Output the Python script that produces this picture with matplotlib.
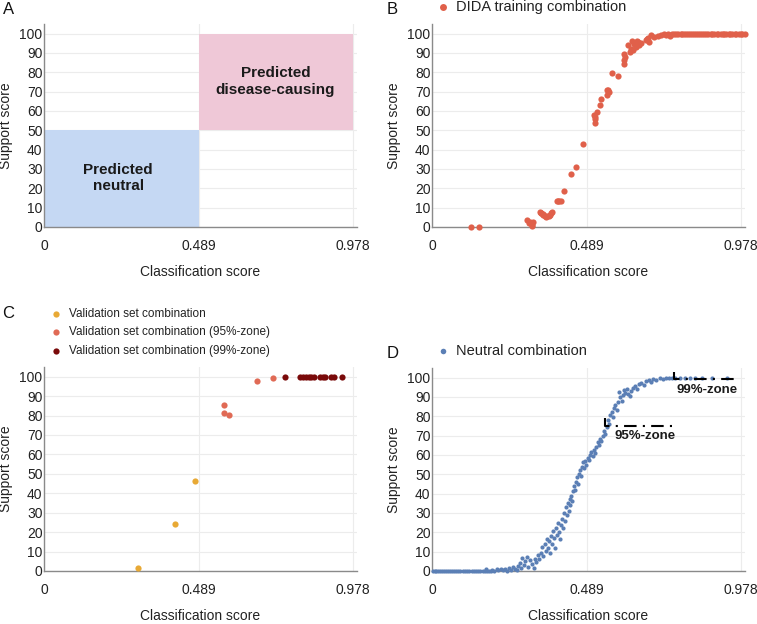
import matplotlib
matplotlib.use("Agg")
import matplotlib.pyplot as plt
from matplotlib.patches import Rectangle

plt.rcParams['font.family'] = ['Liberation Sans', 'DejaVu Sans']

XT = [0, 0.489, 0.978]
XT_LABELS = ['0', '0.489', '0.978']
YT = [0, 10, 20, 30, 40, 50, 60, 70, 80, 90, 100]

# panel B: DIDA training combination
b_x = [0.124, 0.148, 0.301, 0.306, 0.310, 0.315, 0.317, 0.320, 0.341, 0.344,
       0.346, 0.350, 0.352, 0.357, 0.362, 0.365, 0.370, 0.374, 0.377, 0.381,
       0.394, 0.398, 0.402, 0.407, 0.418, 0.439, 0.457, 0.478, 0.513, 0.514,
       0.515, 0.516, 0.523, 0.532, 0.536, 0.553, 0.555, 0.558, 0.560, 0.568,
       0.589, 0.606, 0.607, 0.608, 0.610, 0.619, 0.627, 0.631, 0.634, 0.636,
       0.640, 0.645, 0.648, 0.651, 0.656, 0.661, 0.677, 0.680, 0.682, 0.687,
       0.693, 0.703, 0.714, 0.724,
       0.735, 0.741, 0.748, 0.753, 0.760, 0.766, 0.773, 0.778, 0.786, 0.791,
       0.797, 0.804, 0.810, 0.815, 0.823, 0.829, 0.834, 0.842, 0.848, 0.855,
       0.860, 0.868, 0.874, 0.881, 0.887, 0.892, 0.900, 0.906, 0.913, 0.919,
       0.925, 0.931, 0.938, 0.944, 0.950, 0.957, 0.963, 0.970, 0.976, 0.982, 0.989]
b_y = [0, 0, 3.4, 2.0, 2.4, 1.2, 0.7, 2.4, 8.0, 7.0,
       7.2, 6.5, 6.4, 5.8, 5.0, 5.5, 5.8, 6.2, 7.2, 8.0,
       13.2, 13.4, 13.7, 13.7, 18.4, 27.5, 31.0, 42.8, 58.0, 57.0,
       56.0, 54.0, 59.6, 63.0, 66.0, 68.5, 70.8, 71.0, 70.0, 79.7,
       78.0, 84.5, 86.6, 89.7, 88.0, 94.3, 90.5, 92.3, 96.2, 91.5,
       94.8, 93.1, 96.0, 95.7, 94.0, 95.2, 96.6, 97.0, 97.9, 95.7,
       99.1, 98.3, 98.6, 99.5,
       100, 99.2, 100, 98.8, 100, 99.6, 100, 100, 100, 99.7,
       100, 100, 100, 100, 100, 100, 100, 100, 100, 100,
       100, 100, 100, 100, 100, 100, 100, 100, 100, 100,
       100, 100, 100, 100, 100, 100, 100, 100, 100, 100, 100]

# panel C: validation set
c_x = [0.296, 0.413, 0.477]
c_y = [1.7, 24.2, 46.2]
c95_x = [0.568, 0.568, 0.585, 0.675, 0.725]
c95_y = [85.2, 81.1, 80.4, 97.8, 99.3]
c99_x = [0.763, 0.809, 0.819, 0.828, 0.837, 0.846, 0.854, 0.872, 0.881,
         0.890, 0.908, 0.917, 0.943]
c99_y = [100, 100, 100, 100, 100, 100, 100, 100, 100, 100, 100, 100, 100]

# panel D: neutral combination
d_x = [0.002, 0.008, 0.013, 0.019, 0.025, 0.031, 0.038, 0.044, 0.051, 0.057,
       0.063, 0.070, 0.077, 0.083, 0.090, 0.097, 0.104, 0.111, 0.118, 0.125,
       0.132, 0.139, 0.146, 0.153, 0.160, 0.167, 0.174, 0.181, 0.188, 0.195,
       0.172, 0.190, 0.205, 0.210, 0.218, 0.225, 0.232, 0.238, 0.245, 0.250,
       0.256, 0.262, 0.268, 0.272, 0.277, 0.281,
       0.285, 0.290, 0.295, 0.300, 0.305, 0.310, 0.315, 0.322, 0.325, 0.330,
       0.335, 0.340,
       0.345, 0.348, 0.352, 0.356, 0.360, 0.363, 0.366, 0.370, 0.373, 0.376,
       0.380, 0.383, 0.386, 0.390, 0.393, 0.396, 0.399, 0.402, 0.405, 0.408,
       0.411, 0.414,
       0.417, 0.420, 0.423, 0.426, 0.429, 0.432, 0.435, 0.438, 0.441, 0.444,
       0.447, 0.450,
       0.453, 0.456, 0.459, 0.462, 0.465, 0.468, 0.471, 0.474, 0.477, 0.480,
       0.484, 0.488, 0.492, 0.496, 0.500, 0.504, 0.508, 0.512, 0.516, 0.520,
       0.524, 0.528, 0.532, 0.536, 0.540, 0.544, 0.548, 0.552, 0.556, 0.560,
       0.564, 0.568, 0.572, 0.576, 0.580, 0.584, 0.588, 0.592, 0.596, 0.600,
       0.604, 0.608, 0.612, 0.616, 0.620, 0.625, 0.630, 0.636, 0.642, 0.648,
       0.655, 0.662, 0.670, 0.678, 0.685, 0.692, 0.700, 0.710, 0.720, 0.730,
       0.740, 0.750, 0.760, 0.770, 0.785, 0.800, 0.815, 0.832, 0.853, 0.885, 0.932]
d_y = [0, 0, 0, 0, 0, 0, 0, 0, 0, 0,
       0, 0, 0, 0, 0, 0, 0, 0, 0, 0,
       0, 0, 0, 0, 0, 0, 0, 0, 0, 0,
       0.8, 0.5, 1.2, 0.3, 0.9, 0.4, 1.0, 0.2, 1.5, 0.6,
       2.0, 1.0, 0.3, 2.5, 4.0, 1.5,
       6.5, 3.0, 5.0, 7.0, 2.0, 5.5, 3.5, 1.8, 6.0, 4.5,
       8.5, 6.0,
       9.5, 12.5, 8.0, 14.0, 10.5, 16.5, 12.0, 15.5, 9.5, 18.0,
       14.0, 20.5, 17.0, 12.0, 22.0, 18.5, 25.0, 20.0, 16.5, 24.0,
       27.0, 22.5,
       30.0, 26.0, 33.0, 29.0, 35.0, 31.0, 37.0, 34.0, 39.0, 36.0,
       41.5, 44.0,
       42.0, 46.0, 48.5, 45.0, 50.0, 52.5, 49.0, 54.0, 56.5, 53.5,
       57.0, 55.0, 58.5, 57.5, 60.0, 61.5, 59.5, 62.5, 61.0, 64.0,
       66.5, 65.0, 68.5, 67.0, 70.0, 72.5, 71.0, 74.5, 78.0, 76.0,
       80.5, 82.0, 79.5, 84.5, 86.0, 83.5, 87.5, 92.5, 90.0, 88.0,
       91.0, 93.5, 92.0, 94.0, 91.5, 90.5, 93.0, 94.5, 95.5, 94.0,
       96.5, 97.0, 96.0, 98.5, 99.0, 98.0, 99.5, 99.0, 100, 99.5,
       100, 100, 100, 99.8, 100, 100, 100, 100, 100, 100, 100]

W, H = 757, 624
fig = plt.figure(figsize=(W / 100, H / 100), dpi=100)


def make_ax(left_px, top_px, bottom_px, right_px=None):
    right_px = left_px + 313 if right_px is None else right_px
    ax = fig.add_axes([left_px / W, 1 - bottom_px / H,
                       (right_px - left_px) / W, (bottom_px - top_px) / H])
    ax.set_xlim(0, 0.99)
    ax.set_ylim(0, 105)
    ax.set_xticks(XT)
    ax.set_xticklabels(XT_LABELS)
    ax.set_yticks(YT)
    ax.tick_params(length=0, labelsize=10, colors='#222222')
    ax.tick_params(axis='x', pad=9)
    ax.tick_params(axis='y', pad=1)
    ax.grid(True, color='#ececec', lw=0.8)
    ax.set_axisbelow(True)
    for s in ['top', 'right']:
        ax.spines[s].set_visible(False)
    for s in ['left', 'bottom']:
        ax.spines[s].set_color('#8a8a8a')
        ax.spines[s].set_linewidth(1)
    ax.set_xlabel('Classification score', fontsize=10, color='#222222')
    ax.set_ylabel('Support score', fontsize=10, color='#222222')
    ax.xaxis.set_label_coords(0.5, -0.185)
    ax.yaxis.set_label_coords(-0.1, 0.5)
    return ax


axA = make_ax(44, 24, 227)
axB = make_ax(432, 24, 227)
axC = make_ax(44, 367, 571)
axD = make_ax(432, 368, 571)

# A
axA.add_patch(Rectangle((0, 0), 0.489, 50, color='#c5d8f3', zorder=1, lw=0))
axA.add_patch(Rectangle((0.489, 50), 0.489, 50, color='#efc8d7', zorder=1, lw=0))
axA.text(0.235, 25.3, 'Predicted\nneutral', ha='center', va='center',
         fontsize=11, fontweight='bold', color='#1a1a1a', linespacing=1.2)
axA.text(0.732, 75.3, 'Predicted\ndisease-causing', ha='center', va='center',
         fontsize=11, fontweight='bold', color='#1a1a1a', linespacing=1.2)

# B
col_b = '#e0604a'
axB.scatter(b_x, b_y, s=20, color=col_b, lw=0, clip_on=False, zorder=3)

# C
col_c = '#e8a935'
col_c95 = '#e06a55'
col_c99 = '#7a0a0a'
axC.scatter(c_x, c_y, s=20, color=col_c, lw=0, clip_on=False, zorder=3)
axC.scatter(c95_x, c95_y, s=20, color=col_c95, lw=0, clip_on=False, zorder=3)
axC.scatter(c99_x, c99_y, s=20, color=col_c99, lw=0, clip_on=False, zorder=3)

# D
col_d = '#5b7fb5'
axD.scatter(d_x, d_y, s=9, color=col_d, lw=0, clip_on=False, zorder=3)
axD.plot([0.548, 0.548, 0.779], [79.3, 75, 75], color='black', lw=1.5,
         ls=(0, (6, 3, 1, 3)), zorder=4)
axD.plot([0.766, 0.766, 0.972], [102.9, 99.3, 99.3], color='black', lw=1.5,
         ls=(0, (6, 3, 1, 3)), zorder=4, clip_on=False)
axD.text(0.673, 69.7, '95%-zone', ha='center', va='center', fontsize=9.5,
         fontweight='bold', color='#1a1a1a')
axD.text(0.869, 93.8, '99%-zone', ha='center', va='center', fontsize=9.5,
         fontweight='bold', color='#1a1a1a')

# legends, drawn by hand
def legend_entry(x_px, y_px, color, label, size, fs):
    fig.add_artist(plt.Line2D([x_px / W], [1 - y_px / H], marker='o', ms=size,
                              color=color, mec='none', ls='none',
                              transform=fig.transFigure))
    fig.text((x_px + 13) / W, 1 - y_px / H, label, fontsize=fs,
             va='center', ha='left', color='#222222')


legend_entry(443, 7, col_b, 'DIDA training combination', 5, 10.5)
legend_entry(56, 314, col_c, 'Validation set combination', 4.5, 8.5)
legend_entry(56, 332, col_c95, 'Validation set combination (95%-zone)', 4.5, 8.5)
legend_entry(56, 351, col_c99, 'Validation set combination (99%-zone)', 4.5, 8.5)
legend_entry(443, 351, col_d, 'Neutral combination', 4, 10.5)

# panel letters
for x_px, y_px, lab in [(3, 9, 'A'), (387, 9, 'B'), (2, 314, 'C'), (387, 353, 'D')]:
    fig.text(x_px / W, 1 - y_px / H, lab, fontsize=12, va='center', ha='left',
             color='#111111')

fig.savefig('out.png', dpi=100)
